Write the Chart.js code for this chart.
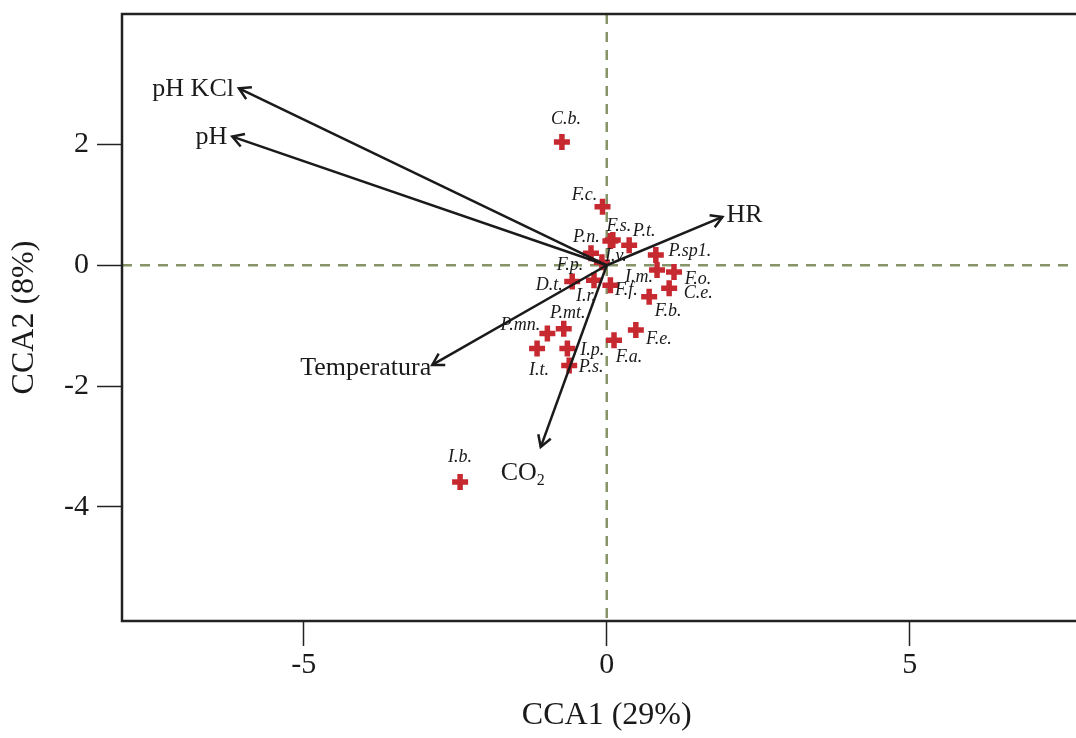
<!DOCTYPE html>
<html>
<head>
<meta charset="utf-8">
<script src="https://cdn.jsdelivr.net/npm/chart.js@4.4.1/dist/chart.umd.min.js"></script>
<style>
    html, body { margin: 0; padding: 0; background: #fff; overflow: hidden; }
</style>
</head>
<body>
<canvas id="ccaChart" width="1105" height="738"></canvas>
<script>
// --- species scores ---
const speciesNames = ['C.b.', 'F.c.', 'F.s.', 'P.n.', 'P.t.', 'P.sp1.', 'F.p.', 'I.v.', 'I.m.', 'F.o.',
    'D.t.', 'I.r.', 'F.f.', 'C.e.', 'F.b.', 'P.mt.', 'P.mn.', 'I.t.', 'I.p.', 'P.s.', 'F.a.', 'F.e.', 'I.b.'];
const speciesX = [-0.74, -0.07, 0.10, 0.06, 0.37, 0.81, -0.26, -0.08, 0.83, 1.11,
    -0.57, -0.21, 0.06, 1.03, 0.70, -0.71, -0.98, -1.15, -0.65, -0.62, 0.12, 0.48, -2.42];
const speciesY = [2.04, 0.97, 0.42, 0.40, 0.33, 0.17, 0.20, 0.05, -0.08, -0.11,
    -0.27, -0.25, -0.33, -0.38, -0.52, -1.05, -1.13, -1.38, -1.38, -1.66, -1.24, -1.07, -3.59];

// --- environmental vectors ---
const envNames = ['pH KCl', 'pH', 'HR', 'Temperatura', 'CO2'];
const envX = [-6.07, -6.18, 1.91, -2.88, -1.09];
const envY = [2.93, 2.13, 0.80, -1.65, -3.01];

const xTicks = [-5, 0, 5];
const yTicks = [-4, -2, 0, 2];

// label placement (pixel offsets from the point)
const speciesLabelOffsets = [[4, -23], [-18, -11], [6, -14], [-24, -4], [15, -14], [34, -4], [-21, 12], [14, -6], [-18, 7], [24, 7],
    [-23, 4], [-8, 16], [16, 5], [29, 5], [19, 15], [4, -15], [-27, -8], [2, 22], [25, 2], [22, 2], [15, 17], [23, 9], [0, -25]];
const envLabelPlace = [['right', -5, 1], ['right', -5, 1], ['left', 4, -2], ['right', -1, 3], ['left', -40, 26]];

const serif = '"Liberation Serif", "DejaVu Serif", serif';
const crossRed = '#c62a30';
const ink = '#1a1a1a';

const biplotDecor = {
    id: 'biplotDecor',
    beforeDatasetsDraw(chart) {
        const { ctx, chartArea: a, scales: { x, y } } = chart;
        const x0 = x.getPixelForValue(0);
        const y0 = y.getPixelForValue(0);
        ctx.save();
        ctx.strokeStyle = '#869468';
        ctx.lineWidth = 2.5;
        ctx.setLineDash([10, 8]);
        ctx.beginPath();
        ctx.moveTo(x0, a.top); ctx.lineTo(x0, a.bottom);
        ctx.moveTo(a.left, y0); ctx.lineTo(a.right, y0);
        ctx.stroke();
        ctx.restore();
    },
    afterDatasetsDraw(chart) {
        const { ctx, chartArea: a } = chart;
        ctx.save();

        // arrowheads + env labels
        envNames.forEach((name, i) => {
            const pts = chart.getDatasetMeta(i).data;
            const p0 = pts[0], p1 = pts[1];
            const ang = Math.atan2(p1.y - p0.y, p1.x - p0.x);
            const len = 13;
            ctx.strokeStyle = ink;
            ctx.lineWidth = 2.5;
            ctx.beginPath();
            ctx.moveTo(p1.x + len * Math.cos(ang + Math.PI * 0.83), p1.y + len * Math.sin(ang + Math.PI * 0.83));
            ctx.lineTo(p1.x, p1.y);
            ctx.lineTo(p1.x + len * Math.cos(ang - Math.PI * 0.83), p1.y + len * Math.sin(ang - Math.PI * 0.83));
            ctx.stroke();

            const [align, dx, dy] = envLabelPlace[i];
            ctx.fillStyle = ink;
            ctx.textBaseline = 'middle';
            ctx.textAlign = align;
            ctx.font = `26px ${serif}`;
            if (name === 'CO2') {
                ctx.fillText('CO', p1.x + dx, p1.y + dy);
                const w = ctx.measureText('CO').width;
                ctx.font = `16px ${serif}`;
                ctx.fillText('2', p1.x + dx + w, p1.y + dy + 8);
            } else {
                ctx.fillText(name, p1.x + dx, p1.y + dy);
            }
        });

        // species labels
        const sp = chart.getDatasetMeta(envNames.length).data;
        ctx.font = `italic 18px ${serif}`;
        ctx.textAlign = 'center';
        ctx.textBaseline = 'middle';
        ctx.fillStyle = ink;
        speciesNames.forEach((name, i) => {
            const [dx, dy] = speciesLabelOffsets[i];
            ctx.fillText(name, sp[i].x + dx, sp[i].y + dy);
        });

        // frame
        ctx.strokeStyle = '#222';
        ctx.lineWidth = 2.5;
        ctx.strokeRect(a.left, a.top, a.right - a.left, a.bottom - a.top);
        ctx.restore();
    }
};

const arrowSets = envNames.map((name, i) => ({
    label: name,
    data: [{ x: 0, y: 0 }, { x: envX[i], y: envY[i] }],
    showLine: true,
    borderColor: ink,
    borderWidth: 2.5,
    pointRadius: 0,
    order: 0
}));

const speciesSet = {
    label: 'Species',
    data: speciesX.map((x, i) => ({ x, y: speciesY[i] })),
    pointStyle: 'cross',
    pointRadius: 8,
    borderColor: crossRed,
    backgroundColor: crossRed,
    borderWidth: 5.5,
    order: 1
};

const ctx = document.getElementById('ccaChart').getContext('2d');

new Chart(ctx, {
    type: 'scatter',
    data: { datasets: [...arrowSets, speciesSet] },
    options: {
        responsive: false,
        animation: false,
        layout: { padding: { top: 14, right: 8, left: 0, bottom: 0 } },
        plugins: {
            legend: { display: false },
            tooltip: { enabled: false }
        },
        scales: {
            x: {
                min: -8,
                max: 8,
                afterBuildTicks: scale => { scale.ticks = xTicks.map(v => ({ value: v })); },
                afterFit: scale => { scale.height = 117; scale.paddingLeft = 0; scale.paddingRight = 0; },
                border: { display: false },
                grid: { drawOnChartArea: false, drawTicks: true, tickLength: 25, tickColor: '#222', tickWidth: 1.5 },
                ticks: { color: ink, font: { family: serif, size: 30 }, padding: 1, maxRotation: 0 },
                title: {
                    display: true,
                    text: 'CCA1 (29%)',
                    color: ink,
                    font: { family: serif, size: 32 },
                    padding: { top: 0, bottom: 3 }
                }
            },
            y: {
                min: -5.89,
                max: 4.16,
                afterBuildTicks: scale => { scale.ticks = yTicks.map(v => ({ value: v })); },
                afterFit: scale => { scale.width = 122; scale.paddingTop = 0; scale.paddingBottom = 0; },
                border: { display: false },
                grid: { drawOnChartArea: false, drawTicks: true, tickLength: 25, tickColor: '#222', tickWidth: 1.5 },
                ticks: { color: ink, font: { family: serif, size: 30 }, padding: 8 },
                title: {
                    display: true,
                    text: 'CCA2 (8%)',
                    color: ink,
                    font: { family: serif, size: 32 },
                    padding: { top: 5, bottom: 0 }
                }
            }
        }
    },
    plugins: [biplotDecor]
});
</script>
</body>
</html>
